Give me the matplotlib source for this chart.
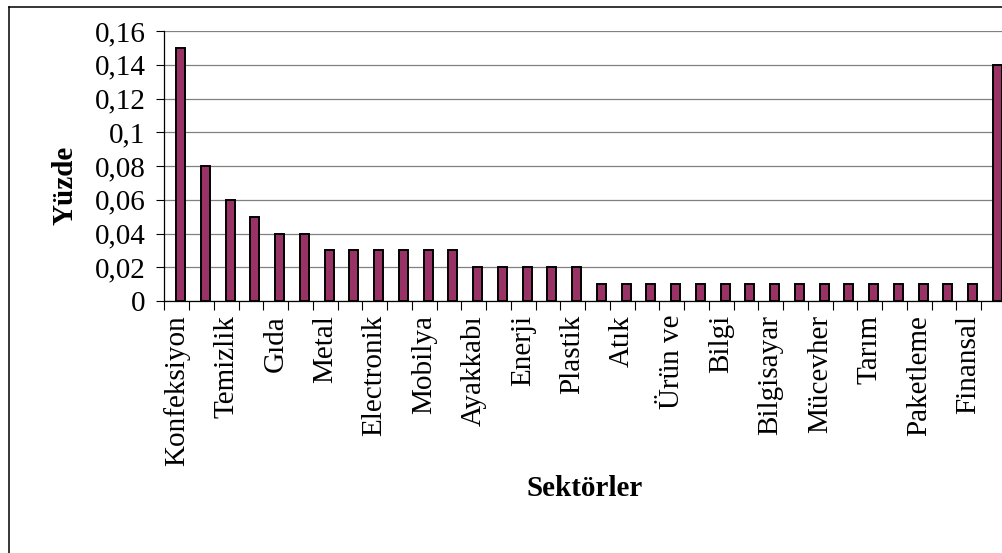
import matplotlib
matplotlib.use("Agg")
import matplotlib.pyplot as plt
from matplotlib.lines import Line2D
from matplotlib.ticker import FixedLocator

# sektör payları (34 sektör, sadece çift sıradakilerin adı yazılıyor)
degerler = [0.15, 0.08, 0.06, 0.05, 0.04, 0.04,
            0.03, 0.03, 0.03, 0.03, 0.03, 0.03,
            0.02, 0.02, 0.02, 0.02, 0.02,
            0.01, 0.01, 0.01, 0.01, 0.01, 0.01, 0.01, 0.01,
            0.01, 0.01, 0.01, 0.01, 0.01, 0.01, 0.01, 0.01,
            0.14]
etiketler = ["Konfeksiyon", "Temizlik", "Gıda", "Metal", "Electronik",
             "Mobilya", "Ayakkabı", "Enerji", "Plastik", "Atık", "Ürün ve",
             "Bilgi", "Bilgisayar", "Mücevher", "Tarım", "Paketleme", "Finansal"]
y_ticks = [0, 0.02, 0.04, 0.06, 0.08, 0.1, 0.12, 0.14, 0.16]
y_etiket = ["0", "0,02", "0,04", "0,06", "0,08", "0,1", "0,12", "0,14", "0,16"]

plt.rcParams['font.family'] = ['Liberation Serif', 'DejaVu Serif']
plt.rcParams['font.size'] = 21

W, H = 1002, 553
fig = plt.figure(figsize=(W / 100, H / 100), dpi=100)

# çizim alanı sağ kenarda kesiliyor
x0, x1 = 164.3, 164.3 + 34 * 24.75
ax = fig.add_axes([x0 / W, 1 - 301 / H, (x1 - x0) / W, 270 / H])

n = len(degerler)
xs = [i + 0.16 for i in range(n)]
ax.bar(xs, degerler, width=0.36, color='#993366', edgecolor='black',
       linewidth=1.4, zorder=3)

ax.set_xlim(-0.5, n - 0.5)
ax.set_ylim(0, 0.16)

ax.set_yticks(y_ticks)
ax.set_yticklabels(y_etiket)
ax.tick_params(axis='y', direction='out', length=5.5, width=0.8, pad=8)

ax.set_xticks(range(0, n, 2))
ax.set_xticklabels(etiketler, rotation=90, va='top', ha='center')
ax.tick_params(axis='x', which='major', length=0, pad=10)
ax.xaxis.set_minor_locator(FixedLocator([i - 0.5 for i in range(n + 1)]))
ax.tick_params(axis='x', which='minor', direction='out', length=6.5, width=0.8)

ax.grid(axis='y', color='#808080', linewidth=0.9, zorder=0)
ax.spines['top'].set_visible(False)
ax.spines['right'].set_visible(False)
for s in ('left', 'bottom'):
    ax.spines[s].set_color('black')
    ax.spines[s].set_linewidth(0.9)

fig.text(65 / W, 1 - 185 / H, "Yüzde", rotation=90, fontweight='bold',
         ha='center', va='center')
fig.text(585 / W, 1 - 489 / H, "Sektörler", fontweight='bold',
         ha='center', va='center')

# grafik çerçevesi (sol ve üst kenar)
yt = 1 - 6.5 / H
fig.add_artist(Line2D([8.5 / W, 8.5 / W], [0, yt], color='black', linewidth=1.1))
fig.add_artist(Line2D([8.5 / W, 1], [yt, yt], color='black', linewidth=1.1))

plt.savefig("out.png", dpi=100)
